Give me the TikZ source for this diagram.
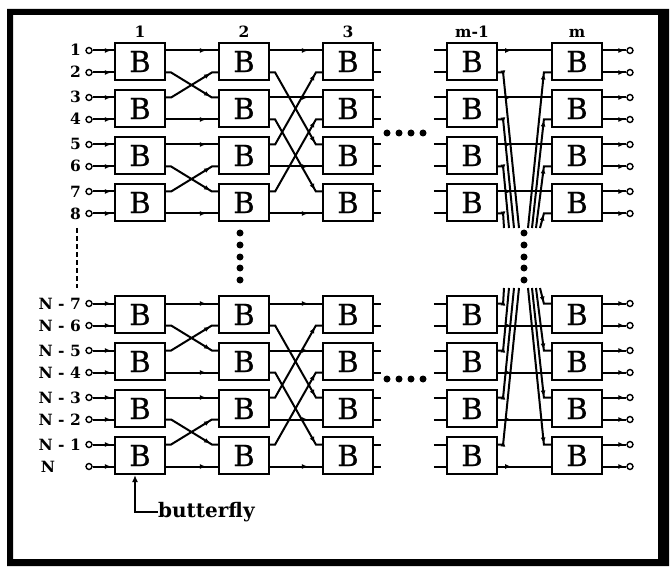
\documentclass[tikz,border=0pt]{standalone}
\usepackage{fontspec}
\setmainfont{DejaVu Serif}
\newfontfamily\boxfont[FakeBold=0.8]{DejaVu Serif}
\usetikzlibrary{arrows.meta,decorations.markings,calc}
\tikzset{
  wire/.style={line width=2pt},
  bbox/.style={draw, line width=2.2pt, minimum width=50pt, minimum height=37pt, inner sep=0pt, font=\boxfont\fontsize{29}{30}\selectfont},
  pin/.style={circle, draw, line width=1.4pt, fill=white, minimum size=6pt, inner sep=0pt},
  lbl/.style={font=\bfseries\fontsize{15.5}{17}\selectfont, inner sep=0pt},
  biglbl/.style={font=\bfseries\fontsize{20}{22}\selectfont, inner sep=0pt},
  tipat/.style={postaction={decorate, decoration={markings, mark=at position #1 with {\arrow{Latex[length=6pt,width=5pt]}}}}},
  dotb/.style={circle, fill, inner sep=0pt, minimum size=7pt},
}
\begin{document}
\begin{tikzpicture}[x=1pt,y=-1pt]
\useasboundingbox (0,0) rectangle (670,567);
% frame
\fill[even odd rule] (7,9) rectangle (669,566) (13,15) rectangle (658,559);
% boxes
\foreach \cn/\colx in {1/140,2/244,3/348,4/472,5/577}{
  \foreach \rn/\rowy in {1/61.5,2/108.5,3/155.5,4/202.5,5/314.5,6/361.5,7/408.5,8/455.5}{
    \node[bbox] (c\cn-\rn) at (\colx,\rowy) {B};
    \coordinate (c\cn-\rn-iu) at ([yshift=11pt]c\cn-\rn.west);
    \coordinate (c\cn-\rn-il) at ([yshift=-11pt]c\cn-\rn.west);
    \coordinate (c\cn-\rn-ou) at ([yshift=11pt]c\cn-\rn.east);
    \coordinate (c\cn-\rn-ol) at ([yshift=-11pt]c\cn-\rn.east);
  }
}
% inputs and outputs
\foreach \rn/\rowy in {1/61.5,2/108.5,3/155.5,4/202.5,5/314.5,6/361.5,7/408.5,8/455.5}{
  \node[pin] (pu\rn) at (89,\rowy-11) {};
  \node[pin] (pl\rn) at (89,\rowy+11) {};
  \draw[wire,tipat=-3pt] (pu\rn) -- (c1-\rn-iu);
  \draw[wire,tipat=-3pt] (pl\rn) -- (c1-\rn-il);
  \node[pin] (qu\rn) at (630,\rowy-11) {};
  \node[pin] (ql\rn) at (630,\rowy+11) {};
  \draw[wire,tipat=-2pt] (c5-\rn-ou) -- (qu\rn);
  \draw[wire,tipat=-2pt] (c5-\rn-ol) -- (ql\rn);
  % stubs
  \draw[wire] (c3-\rn-ou) -- ++(7,0);
  \draw[wire] (c3-\rn-ol) -- ++(7,0);
  \draw[wire] ([xshift=-12pt]c4-\rn-iu) -- (c4-\rn-iu);
  \draw[wire] ([xshift=-12pt]c4-\rn-il) -- (c4-\rn-il);
}
% stage 1 -> 2
\foreach \a/\b in {1/2,3/4,5/6,7/8}{
  \draw[wire,tipat=-12pt] (c1-\a-ou) -- (c2-\a-iu);
  \draw[wire,tipat=-12pt] (c1-\b-ol) -- (c2-\b-il);
  \draw[wire,tipat=-8pt] (c1-\a-ol) -- ++(5,0) -- ([xshift=-6pt]c2-\b-iu) -- (c2-\b-iu);
  \draw[wire,tipat=-8pt] (c1-\b-ou) -- ++(5,0) -- ([xshift=-6pt]c2-\a-il) -- (c2-\a-il);
}
% stage 2 -> 3
\foreach \a/\b in {1/3,2/4,5/7,6/8}{
  \draw[wire,tipat=-14pt] (c2-\a-ou) -- (c3-\a-iu);
  \draw[wire,tipat=-14pt] (c2-\b-ol) -- (c3-\b-il);
  \draw[wire,tipat=-8pt] (c2-\a-ol) -- ++(5,0) -- ([xshift=-6pt]c3-\b-iu) -- (c3-\b-iu);
  \draw[wire,tipat=-8pt] (c2-\b-ou) -- ++(5,0) -- ([xshift=-6pt]c3-\a-il) -- (c3-\a-il);
}
% stage m-1 -> m
\foreach \a/\fl/\fr in {1/519/528, 2/514/532, 3/509/536, 4/504/540}{
  \draw[wire,tipat=13pt] (c4-\a-ou) -- (c5-\a-iu);
  \coordinate (tl\a) at (\fl,228);
  \coordinate (tr\a) at (\fr,228);
  \draw[wire,tipat=9pt] (c4-\a-ol) -- ++(5,0) -- (tl\a);
  \draw[wire,tipat=-8pt] (tr\a) -- ([xshift=-7pt]c5-\a-il) -- (c5-\a-il);
}
\foreach \b/\fl/\fr in {5/504/540, 6/509/536, 7/514/532, 8/519/528}{
  \draw[wire,tipat=13pt] (c4-\b-ol) -- (c5-\b-il);
  \coordinate (bl\b) at (\fl,288);
  \coordinate (br\b) at (\fr,288);
  \draw[wire,tipat=9pt] (c4-\b-ou) -- ++(5,0) -- (bl\b);
  \draw[wire,tipat=-8pt] (br\b) -- ([xshift=-7pt]c5-\b-iu) -- (c5-\b-iu);
}
% dots
\foreach \i/\yy in {1/233,2/245,3/257,4/268,5/280}{
  \node[dotb] (dv\i) at (240,\yy) {};
  \node[dotb] (dm\i) at (524,\yy) {};
}
\foreach \i/\xx in {1/387,2/399,3/411,4/423}{
  \node[dotb] (dh\i) at (\xx,133) {};
  \node[dotb] (dg\i) at (\xx,379) {};
}
% dashed line
\coordinate (dA) at (77,228);
\coordinate (dB) at (77,288);
\draw[line width=2pt, dash pattern=on 5pt off 3pt] (dA) -- (dB);
% stage labels
\node[lbl, anchor=base] (s1) at (140,38) {1};
\node[lbl, anchor=base] (s2) at (244,38) {2};
\node[lbl, anchor=base] (s3) at (348,38) {3};
\node[lbl, anchor=base] (s4) at (472,38) {m-1};
\node[lbl, anchor=base] (s5) at (577,38) {m};
% input labels
\foreach \t/\yy in {1/50.5,2/72.5,3/97.5,4/119.5,5/144.5,6/166.5,7/191.5,8/213.5}{
  \node[lbl, anchor=base east] (lab\t) at (81,\yy+5.5) {\t};
}
\node[lbl, anchor=base east] (labN7) at (81,309) {N - 7};
\node[lbl, anchor=base east] (labN6) at (81,331) {N - 6};
\node[lbl, anchor=base east] (labN5) at (81,356) {N - 5};
\node[lbl, anchor=base east] (labN4) at (81,378) {N - 4};
\node[lbl, anchor=base east] (labN3) at (81,403) {N - 3};
\node[lbl, anchor=base east] (labN2) at (81,425) {N - 2};
\node[lbl, anchor=base east] (labN1) at (81,450) {N - 1};
\node[lbl, anchor=base] (labN) at (48,472) {N};
% butterfly label
\node[biglbl, anchor=base west] (bf) at (158,517) {butterfly};
\draw[wire, -{Latex[length=7pt,width=6pt]}] (bf.west) -| ([xshift=-5pt]c1-8.south);
\end{tikzpicture}
\end{document}
